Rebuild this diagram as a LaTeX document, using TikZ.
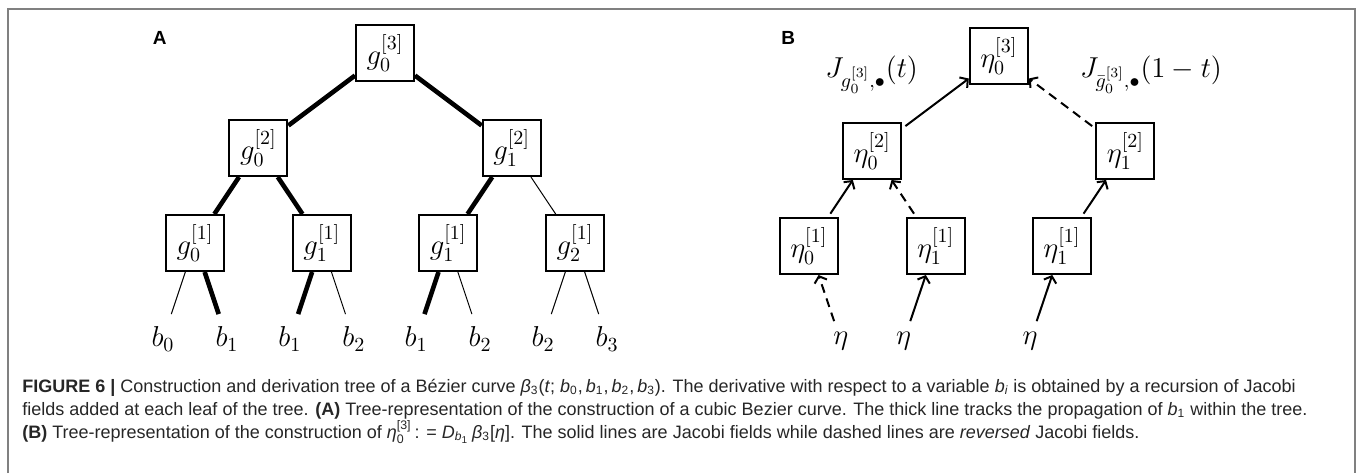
\documentclass[tikz,border=0pt]{standalone}
\usepackage{fontspec}
\usepackage{tikz}
\usepackage{xcolor}
\usetikzlibrary{arrows.meta, positioning}
\newfontfamily\capfont{Liberation Sans}
\newcommand{\gv}[2]{$g_{#1}^{[#2]}$}
\newcommand{\etav}[2]{$\eta_{#1}^{[#2]}$}
\newcommand{\capidx}[1]{\mbox{\fontsize{6.2}{7}\selectfont #1}}

\begin{document}
\begin{tikzpicture}[x=0.5pt, y=-0.5pt, on grid, font=\fontsize{14}{16}\selectfont,
    box/.style={rectangle, draw, line width=1pt, minimum width=29pt, minimum height=28pt, inner sep=1pt},
    prop/.style={line width=2.3pt},
    link/.style={line width=0.5pt},
    jac/.style={line width=1pt, -{Straight Barb[length=2.8pt, width=6.5pt]}},
    revjac/.style={jac, dash pattern=on 4.5pt off 3pt},
    panel/.style={font=\capfont\bfseries\fontsize{9.5}{11}\selectfont},
    captext/.style={font=\capfont\fontsize{9}{11}\selectfont, text=black!85, anchor=base west, inner sep=0pt}]

    \useasboundingbox (0,0) rectangle (1360,473);
    \draw[black!50, line width=1pt] (7.5,473) -- (7.5,8.5) -- (1354.5,8.5) -- (1354.5,473);

    % tree A
    \node[panel] (A) at (159.7,38.3) {A};
    \node[box] (G3) at (385,53) {\gv{0}{3}};
    \node[box, below left=47.5pt and 63.3pt of G3] (G20) {\gv{0}{2}};
    \node[box, below right=47.5pt and 63.3pt of G3] (G21) {\gv{1}{2}};
    \node[box, below left=47.5pt and 31.7pt of G20] (G10) {\gv{0}{1}};
    \node[box, below right=47.5pt and 31.7pt of G20] (G11) {\gv{1}{1}};
    \node[box, below left=47.5pt and 31.7pt of G21] (G11b) {\gv{1}{1}};
    \node[box, below right=47.5pt and 31.7pt of G21] (G12) {\gv{2}{1}};
    \node[below left=48pt and 16pt of G10] (b0) {$b_0$};
    \node[below right=48pt and 16pt of G10] (b1) {$b_1$};
    \node[below left=48pt and 16pt of G11] (b1b) {$b_1$};
    \node[below right=48pt and 16pt of G11] (b2) {$b_2$};
    \node[below left=48pt and 16pt of G11b] (b1c) {$b_1$};
    \node[below right=48pt and 16pt of G11b] (b2b) {$b_2$};
    \node[below left=48pt and 16pt of G12] (b2c) {$b_2$};
    \node[below right=48pt and 16pt of G12] (b3) {$b_3$};

    \path
    (G3) edge[prop] (G20)
    (G3) edge[prop] (G21)
    (G20) edge[prop] (G10)
    (G20) edge[prop] (G11)
    (G21) edge[prop] (G11b)
    (G21) edge[link] (G12)
    ;
    \path[shorten >=3pt]
    (G10) edge[link] (b0)
    (G10) edge[prop] (b1)
    (G11) edge[prop] (b1b)
    (G11) edge[link] (b2)
    (G11b) edge[prop] (b1c)
    (G11b) edge[link] (b2b)
    (G12) edge[link] (b2c)
    (G12) edge[link] (b3)
    ;

    % tree B
    \node[panel] (B) at (788.3,38) {B};
    \node[box] (H3) at (998.8,56) {\etav{0}{3}};
    \node[box, below left=47.5pt and 63.3pt of H3] (H20) {\etav{0}{2}};
    \node[box, below right=47.5pt and 63.3pt of H3] (H21) {\etav{1}{2}};
    \node[box, below left=47.5pt and 31.7pt of H20] (H10) {\etav{0}{1}};
    \node[box, below right=47.5pt and 31.7pt of H20] (H11) {\etav{1}{1}};
    \node[box, below left=47.5pt and 31.7pt of H21] (H11b) {\etav{1}{1}};
    \node[below right=47.5pt and 16pt of H10] (e0) {$\eta$};
    \node[below left=47.5pt and 16pt of H11] (e1) {$\eta$};
    \node[below left=47.5pt and 16pt of H11b] (e2) {$\eta$};
    \node[anchor=base east] (JL) at (925,77) {$J_{g_0^{[3]},\bullet}(t)$};
    \node[anchor=base west] (JR) at (1073,77) {$J_{\bar{g}_0^{[3]},\bullet}(1-t)$};

    \path[shorten <=2pt]
    (e0) edge[revjac] (H10)
    (e1) edge[jac] (H11)
    (e2) edge[jac] (H11b)
    (H10) edge[jac] (H20)
    (H11) edge[revjac] (H20)
    (H11b) edge[jac] (H21)
    (H20) edge[jac] (H3)
    (H21) edge[revjac] (H3)
    ;

    % caption
    \node[captext] (cap1) at (22,392) {\textbf{FIGURE 6 |} Construction and derivation tree of a Bézier curve \textit{β}\textsubscript{3}(\textit{t}; \textit{b}\textsubscript{0},\,\textit{b}\textsubscript{1},\,\textit{b}\textsubscript{2},\,\textit{b}\textsubscript{3}). The derivative with respect to a variable \textit{b\textsubscript{i}} is obtained by a recursion of Jacobi};
    \node[captext] (cap2) at (22,415) {fields added at each leaf of the tree. \textbf{(A)} Tree-representation of the construction of a cubic Bezier curve. The thick line tracks the propagation of \textit{b}\textsubscript{1} within the tree.};
    \node[captext] (cap3) at (22,438) {\textbf{(B)} Tree-representation of the construction of $\mbox{\textit{η}}_{\capidx{0}}^{\capidx{[3]}}$\,: = \textit{D}\textsubscript{\textit{b}\textsubscript{1}}\,\textit{β}\textsubscript{3}[\textit{η}]. The solid lines are Jacobi fields while dashed lines are \textit{reversed} Jacobi fields.};

\end{tikzpicture}
\end{document}
